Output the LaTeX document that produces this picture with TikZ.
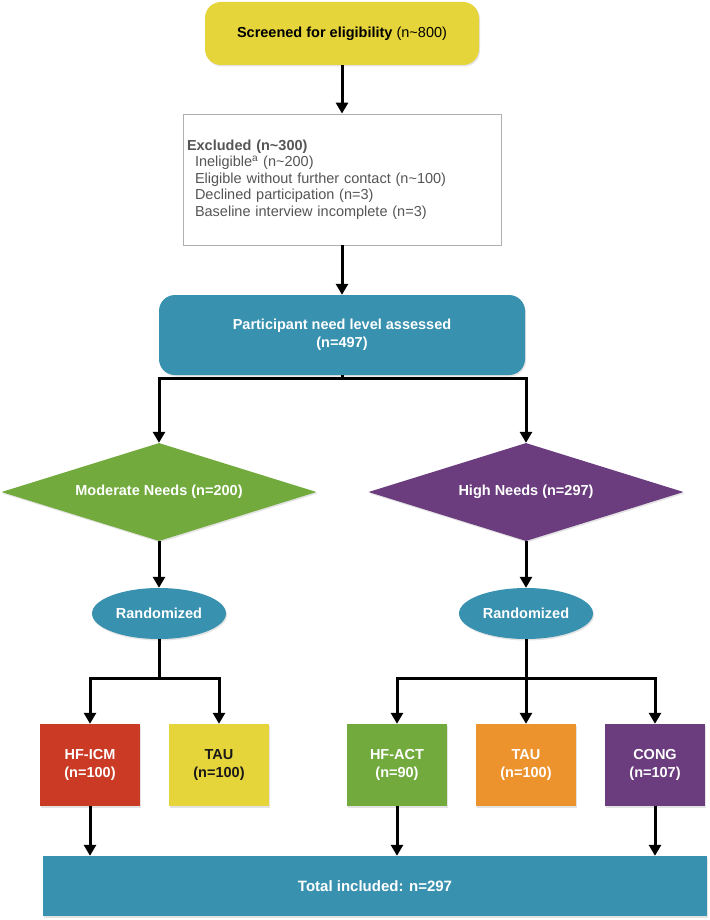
\documentclass[tikz,border=0pt]{standalone}
\usepackage{fontspec}
\setmainfont{Liberation Sans}
\usetikzlibrary{shapes.geometric,arrows.meta,shadows}
\definecolor{cyellow}{RGB}{229,213,58}
\definecolor{cteal}{RGB}{56,145,175}
\definecolor{cgreen}{RGB}{114,170,62}
\definecolor{cpurple}{RGB}{107,60,126}
\definecolor{cred}{RGB}{203,58,36}
\definecolor{corange}{RGB}{237,147,45}
\definecolor{cgraytext}{RGB}{85,85,85}
\definecolor{cgrayline}{RGB}{175,175,175}
\begin{document}
\begin{tikzpicture}[x=1pt,y=-1pt,
  base/.style={font=\fontsize{14.5}{18}\selectfont\bfseries, text=white, inner sep=0pt, align=center},
  shad/.style={drop shadow={opacity=0.22,shadow xshift=1pt,shadow yshift=-1.5pt}},
  armbox/.style={base, shad, minimum width=100pt, minimum height=82pt},
  decide/.style={base, shad, diamond, aspect=3.2, minimum width=315pt, minimum height=98pt},
  rand/.style={base, shad, ellipse, fill=cteal, minimum width=134pt, minimum height=51pt},
  arr/.style={line width=3pt,-{Triangle[width=12pt,length=11pt]}},
  conn/.style={line width=3pt},
]
\useasboundingbox (0,0) rectangle (709,920);

% top
\node[base, text=black, fill=cyellow, rounded corners=16pt, minimum width=274pt, minimum height=63pt, shad] (screen) at (342,33.5)
  {Screened for eligibility {\mdseries (n\textasciitilde800)}};

\node[draw=cgrayline, line width=0.8pt, fill=white, minimum width=318pt, minimum height=131pt,
      text width=310pt, inner xsep=4pt, align=left, text=cgraytext,
      font=\fontsize{14.5}{16.5}\selectfont] (excl) at (342,179.5)
  {\textbf{Excluded (n\textasciitilde300)}\\
   \hspace*{8pt}Ineligible\textsuperscript{a} (n\textasciitilde200)\\
   \hspace*{8pt}Eligible without further contact (n\textasciitilde100)\\
   \hspace*{8pt}Declined participation (n=3)\\
   \hspace*{8pt}Baseline interview incomplete (n=3)};

\node[base, fill=cteal, rounded corners=16pt, minimum width=366pt, minimum height=80pt, shad] (need) at (342,335)
  {Participant need level assessed\\(n=497)};

\coordinate (b1) at (342,378);

\node[decide, fill=cgreen] (dmod) at (159,492) {Moderate Needs (n=200)};
\node[decide, fill=cpurple] (dhigh) at (526,492) {High Needs (n=297)};

\node[rand] (rmod) at (159,613.5) {Randomized};
\node[rand] (rhigh) at (526,613.5) {Randomized};

\coordinate (b2) at (159,678);
\coordinate (b3) at (526,678);

\node[armbox, fill=cred] (icm) at (90,765) {HF-ICM\\(n=100)};
\node[armbox, fill=cyellow, text=black!90] (tau1) at (219,765) {TAU\\(n=100)};
\node[armbox, fill=cgreen] (act) at (397,765) {HF-ACT\\(n=90)};
\node[armbox, fill=corange] (tau2) at (526,765) {TAU\\(n=100)};
\node[armbox, fill=cpurple] (cong) at (655,765) {CONG\\(n=107)};

\node[base, fill=cteal, minimum width=664pt, minimum height=60pt, shad, font=\fontsize{15}{18}\selectfont\bfseries] (total) at (375,886)
  {Total included: n=297};

% connectors
\draw[arr] (screen.south) -- (excl.north);
\draw[arr] (excl.south) -- (need.north);
\draw[conn] (need.south) -- (b1);
\draw[arr] (b1) -| (dmod.north);
\draw[arr] (b1) -| (dhigh.north);
\draw[arr] (dmod.south) -- (rmod.north);
\draw[arr] (dhigh.south) -- (rhigh.north);
\draw[conn] (rmod.south) -- (b2);
\draw[arr] (b2) -| (icm.north);
\draw[arr] (b2) -| (tau1.north);
\draw[arr] (rhigh.south) -- (tau2.north);
\draw[arr] (b3) -| (act.north);
\draw[arr] (b3) -| (cong.north);
\draw[arr] (icm.south) -- (icm.south |- total.north);
\draw[arr] (act.south) -- (act.south |- total.north);
\draw[arr] (cong.south) -- (cong.south |- total.north);
\end{tikzpicture}
\end{document}
